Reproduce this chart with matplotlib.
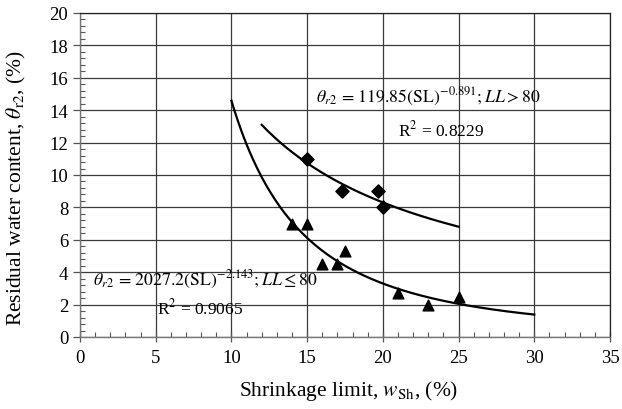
import matplotlib
matplotlib.use("Agg")
import matplotlib.pyplot as plt
import numpy as np
from matplotlib.ticker import MultipleLocator

plt.rcParams['font.family'] = ['Liberation Serif', 'DejaVu Serif']
plt.rcParams['mathtext.fontset'] = 'stix'

# Data
sl_high = [15.0, 17.3, 19.7, 20.0]
theta_high = [11.0, 9.0, 9.0, 8.0]
sl_low = [14.0, 15.0, 16.0, 17.0, 17.5, 21.0, 23.0, 25.0]
theta_low = [7.0, 7.0, 4.5, 4.5, 5.3, 2.7, 2.0, 2.5]

fit_high = (119.85, -0.891, 12.0, 25.0)
fit_low = (2027.2, -2.143, 10.0, 30.0)

x_ticks = [0, 5, 10, 15, 20, 25, 30, 35]
y_ticks = [0, 2, 4, 6, 8, 10, 12, 14, 16, 18, 20]

fig = plt.figure(figsize=(6.22, 4.10), dpi=100)
ax = fig.add_axes([80/622, 1-338/410, (610-80)/622, (338-14)/410])

ax.set_xlim(0, 35)
ax.set_ylim(0, 20)
ax.set_xticks(x_ticks)
ax.set_yticks(y_ticks)
ax.xaxis.set_minor_locator(MultipleLocator(1))
ax.yaxis.set_minor_locator(MultipleLocator(0.4))
ax.grid(True, which='major', color='#3a3a3a', linewidth=0.9)
ax.set_axisbelow(True)
ax.tick_params(axis='x', which='major', direction='inout', length=7, width=0.9, labelsize=13.5, colors='#555555', labelcolor='black', pad=5)
ax.tick_params(axis='y', which='major', direction='out', length=5, width=0.9, labelsize=13.5, colors='#555555', labelcolor='black')
ax.tick_params(axis='both', which='minor', direction='in', length=3.5, width=0.8, colors='#555555')
for s in ['left', 'bottom']:
    ax.spines[s].set_color('#777777')
    ax.spines[s].set_linewidth(1.0)
for s in ['top', 'right']:
    ax.spines[s].set_color('#222222')
    ax.spines[s].set_linewidth(0.9)

ax.scatter(sl_high, theta_high, marker='D', s=45, color='black', zorder=4)
ax.scatter(sl_low, theta_low, marker='^', s=60, color='black', zorder=4)

for a, b, x0, x1 in [fit_high, fit_low]:
    xx = np.linspace(x0, x1, 200)
    ax.plot(xx, a * xx ** b, color='black', linewidth=1.6, zorder=3)

ax.text(15.6, 14.9, r'$\theta_{r2}\,=\,119.85(\mathrm{SL})^{-0.891};LL>80$', fontsize=12.8, va='center', ha='left')
ax.text(21.0, 12.8, r'R$^2$ = 0.8229', fontsize=12.5, va='center', ha='left')
ax.text(0.85, 3.6, r'$\theta_{r2}\,=\,2027.2(\mathrm{SL})^{-2.143};LL\leq 80$', fontsize=12.8, va='center', ha='left')
ax.text(5.1, 1.8, r'R$^2$ = 0.9065', fontsize=12.5, va='center', ha='left')

ax.set_xlabel(r'Shrinkage limit, $w_{\mathrm{Sh}}$, (%)', fontsize=15.5)
ax.set_ylabel(r'Residual water content, $\theta_{\mathrm{r2}}$, (%)', fontsize=15.5)
ax.xaxis.set_label_coords(0.5 + 4/530, -0.127)
ax.xaxis.label.set_va('top')
ax.yaxis.set_label_coords(-0.098, 0.463)

fig.savefig('out.png', dpi=100)
